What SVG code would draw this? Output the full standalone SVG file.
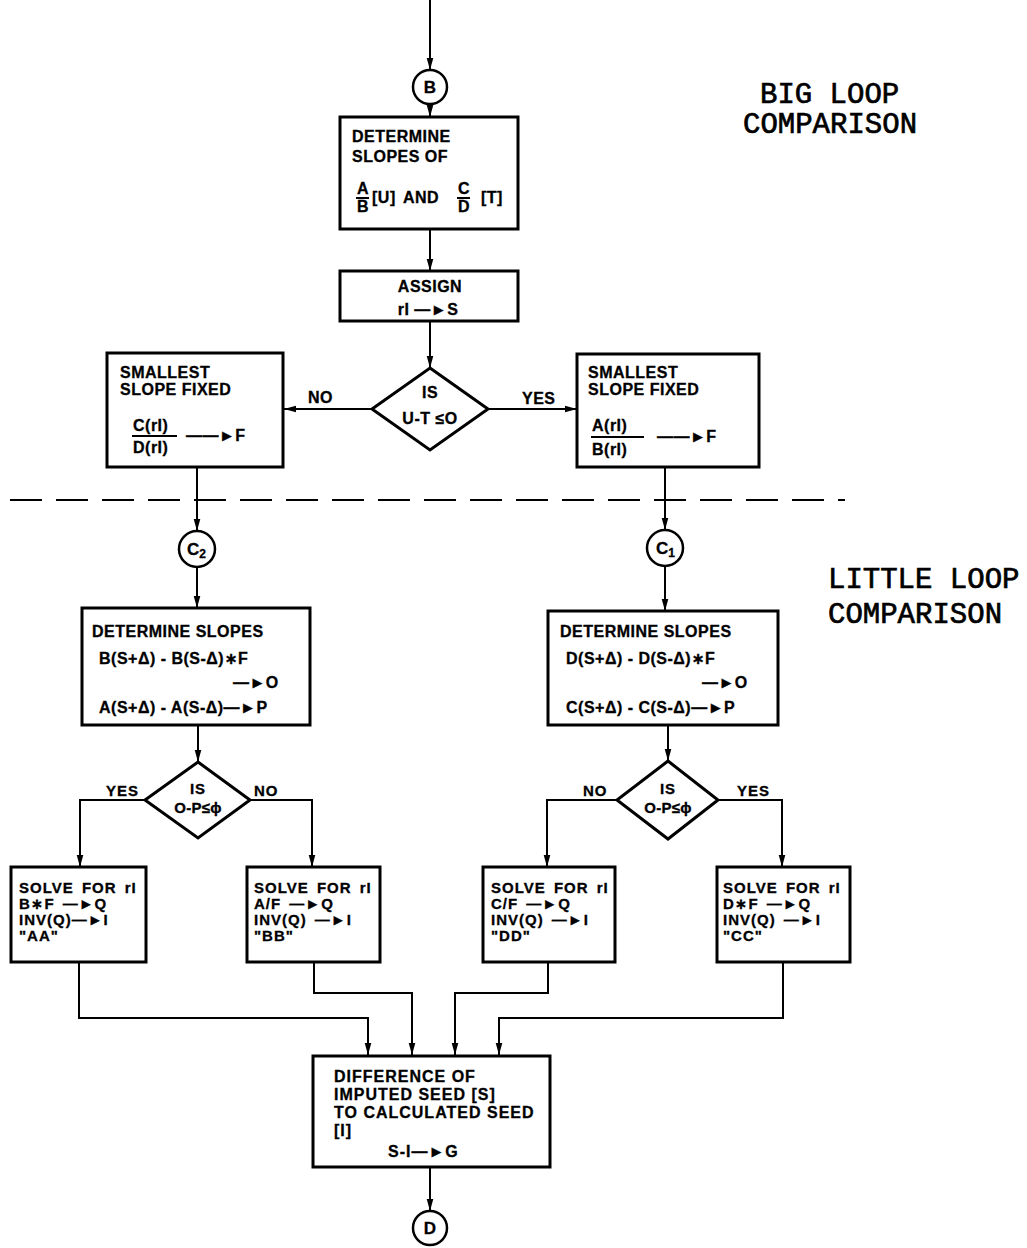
<svg xmlns="http://www.w3.org/2000/svg" width="1027" height="1248" viewBox="0 0 1027 1248">
<defs>
<marker id="ah" markerUnits="userSpaceOnUse" markerWidth="13" markerHeight="8" refX="12" refY="4" orient="auto">
<path d="M0,0.7 L12,4 L0,7.3 z" fill="#000"/>
</marker>
<style>
.box{fill:#fff;stroke:#000;stroke-width:3}
.dia{fill:#fff;stroke:#000;stroke-width:3}
.cir{fill:#fff;stroke:#000;stroke-width:2.5}
.ln{fill:none;stroke:#000;stroke-width:2}
.bar{stroke:#000;stroke-width:2}
.t{font-family:"Liberation Sans","DejaVu Sans",sans-serif;font-weight:bold;font-size:16px;letter-spacing:0.5px;fill:#000;stroke:#000;stroke-width:0.3px}
.s{font-size:15px;letter-spacing:1px;word-spacing:3px}
.m{text-anchor:middle}
.side{font-family:"Liberation Mono","Courier New",monospace;font-size:29px;fill:#000;stroke:#000;stroke-width:0.7px}
</style>
</defs>
<rect width="1027" height="1248" fill="#fff"/>

<g id="connectors">
<path class="ln" d="M430,0 V70" marker-end="url(#ah)"/>
<path class="ln" d="M430,104 V117" marker-end="url(#ah)"/>
<path class="ln" d="M430,229 V271" marker-end="url(#ah)"/>
<path class="ln" d="M430,321 V368" marker-end="url(#ah)"/>
<path class="ln" d="M372,409 H284" marker-end="url(#ah)"/>
<path class="ln" d="M488,409 H577" marker-end="url(#ah)"/>
<path class="ln" d="M197,467 V531" marker-end="url(#ah)"/>
<path class="ln" d="M197,567 V608" marker-end="url(#ah)"/>
<path class="ln" d="M665,467 V530" marker-end="url(#ah)"/>
<path class="ln" d="M665,566 V611" marker-end="url(#ah)"/>
<path class="ln" d="M198,725 V762" marker-end="url(#ah)"/>
<path class="ln" d="M145,800 H80 V867" marker-end="url(#ah)"/>
<path class="ln" d="M250,800 H312 V867" marker-end="url(#ah)"/>
<path class="ln" d="M668,725 V761" marker-end="url(#ah)"/>
<path class="ln" d="M617,800 H547 V867" marker-end="url(#ah)"/>
<path class="ln" d="M718,800 H782 V867" marker-end="url(#ah)"/>
<path class="ln" d="M79,962 V1018 H368 V1055" marker-end="url(#ah)"/>
<path class="ln" d="M314,962 V993 H412 V1055" marker-end="url(#ah)"/>
<path class="ln" d="M548,962 V993 H455 V1055" marker-end="url(#ah)"/>
<path class="ln" d="M783,962 V1018 H499 V1055" marker-end="url(#ah)"/>
<path class="ln" d="M430,1167 V1211" marker-end="url(#ah)"/>
<text class="t" x="308" y="403">NO</text>
<text class="t" x="522" y="404">YES</text>
<text class="t s" x="106" y="796">YES</text>
<text class="t s" x="254" y="796">NO</text>
<text class="t s" x="583" y="796">NO</text>
<text class="t s" x="737" y="796">YES</text>
</g>

<g id="divider">
<path d="M10,500 H845" stroke="#000" stroke-width="2" stroke-dasharray="32 14" fill="none"/>
</g>

<g id="labels">
<text class="side" x="760" y="103">BIG LOOP</text>
<text class="side" x="743" y="133">COMPARISON</text>
<text class="side" x="828" y="588">LITTLE LOOP</text>
<text class="side" x="828" y="623">COMPARISON</text>
</g>

<g id="node-B">
<circle class="cir" cx="430" cy="87" r="17"/>
<text class="t m" x="430" y="93" style="letter-spacing:0;font-size:17px">B</text>
</g>

<g id="node-determine-slopes-of">
<rect class="box" x="340" y="117" width="178" height="112"/>
<text class="t" x="352" y="142">DETERMINE</text>
<text class="t" x="352" y="162">SLOPES  OF</text>
<text class="t" x="357" y="194">A</text>
<line class="bar" x1="356" y1="198" x2="369" y2="198"/>
<text class="t" x="357" y="212">B</text>
<text class="t" x="372" y="203">[U]</text>
<text class="t" x="403" y="203">AND</text>
<text class="t" x="458" y="194">C</text>
<line class="bar" x1="457" y1="198" x2="470" y2="198"/>
<text class="t" x="458" y="212">D</text>
<text class="t" x="481" y="203">[T]</text>
</g>

<g id="node-assign">
<rect class="box" x="340" y="271" width="178" height="50"/>
<text class="t m" x="430" y="292">ASSIGN</text>
<text class="t m" x="428" y="315">rI —►S</text>
</g>

<g id="node-is-ut">
<polygon class="dia" points="430,368 488,409 430,450 372,409"/>
<text class="t m" x="430" y="398">IS</text>
<text class="t m" x="430" y="424">U-T ≤O</text>
</g>

<g id="node-smallest-left">
<rect class="box" x="107" y="353" width="176" height="114"/>
<text class="t" x="120" y="378">SMALLEST</text>
<text class="t" x="120" y="395">SLOPE  FIXED</text>
<text class="t" x="133" y="431">C(rI)</text>
<line class="bar" x1="132" y1="436" x2="177" y2="436"/>
<text class="t" x="133" y="453">D(rI)</text>
<text class="t" x="186" y="441">——►F</text>
</g>

<g id="node-smallest-right">
<rect class="box" x="577" y="354" width="182" height="113"/>
<text class="t" x="588" y="378">SMALLEST</text>
<text class="t" x="588" y="395">SLOPE  FIXED</text>
<text class="t" x="592" y="431">A(rI)</text>
<line class="bar" x1="591" y1="437" x2="644" y2="437"/>
<text class="t" x="592" y="455">B(rI)</text>
<text class="t" x="657" y="442">——►F</text>
</g>

<g id="node-C2">
<circle class="cir" cx="197" cy="549" r="18"/>
<text class="t" x="187" y="555" style="letter-spacing:0;font-size:17px">C<tspan font-size="12" dy="3">2</tspan></text>
</g>

<g id="node-C1">
<circle class="cir" cx="665" cy="548" r="18"/>
<text class="t" x="656" y="554" style="letter-spacing:0;font-size:17px">C<tspan font-size="12" dy="3">1</tspan></text>
</g>

<g id="node-determine-left">
<rect class="box" x="82" y="608" width="228" height="117"/>
<text class="t" x="92" y="637">DETERMINE  SLOPES</text>
<text class="t" x="99" y="664">B(S+Δ) - B(S-Δ)∗F</text>
<text class="t" x="233" y="688">—►O</text>
<text class="t" x="99" y="713">A(S+Δ) - A(S-Δ)—►P</text>
</g>

<g id="node-determine-right">
<rect class="box" x="548" y="611" width="230" height="114"/>
<text class="t" x="560" y="637">DETERMINE  SLOPES</text>
<text class="t" x="566" y="664">D(S+Δ) - D(S-Δ)∗F</text>
<text class="t" x="702" y="688">—►O</text>
<text class="t" x="566" y="713">C(S+Δ) - C(S-Δ)—►P</text>
</g>

<g id="node-is-op-left">
<polygon class="dia" points="198,762 250,800 198,838 145,800"/>
<text class="t s m" x="198" y="794" style="word-spacing:0">IS</text>
<text class="t s m" x="198" y="813" style="letter-spacing:0.3px">O-P≤ϕ</text>
</g>

<g id="node-is-op-right">
<polygon class="dia" points="668,761 718,800 668,839 617,800"/>
<text class="t s m" x="668" y="794" style="word-spacing:0">IS</text>
<text class="t s m" x="668" y="813" style="letter-spacing:0.3px">O-P≤ϕ</text>
</g>

<g id="node-solve-AA">
<rect class="box" x="11" y="867" width="135" height="95"/>
<text class="t s" x="19" y="893">SOLVE FOR rI</text>
<text class="t s" x="19" y="909">B∗F —►Q</text>
<text class="t s" x="19" y="925">INV(Q)—►I</text>
<text class="t s" x="19" y="941">"AA"</text>
</g>

<g id="node-solve-BB">
<rect class="box" x="247" y="867" width="133" height="95"/>
<text class="t s" x="254" y="893">SOLVE FOR rI</text>
<text class="t s" x="254" y="909">A/F —►Q</text>
<text class="t s" x="254" y="925">INV(Q) —►I</text>
<text class="t s" x="254" y="941">"BB"</text>
</g>

<g id="node-solve-DD">
<rect class="box" x="483" y="867" width="132" height="95"/>
<text class="t s" x="491" y="893">SOLVE FOR rI</text>
<text class="t s" x="491" y="909">C/F —►Q</text>
<text class="t s" x="491" y="925">INV(Q) —►I</text>
<text class="t s" x="491" y="941">"DD"</text>
</g>

<g id="node-solve-CC">
<rect class="box" x="717" y="867" width="133" height="95"/>
<text class="t s" x="723" y="893">SOLVE FOR rI</text>
<text class="t s" x="723" y="909">D∗F —►Q</text>
<text class="t s" x="723" y="925">INV(Q) —►I</text>
<text class="t s" x="723" y="941">"CC"</text>
</g>

<g id="node-difference">
<rect class="box" x="313" y="1056" width="237" height="111"/>
<text class="t" x="334" y="1082" style="letter-spacing:1px">DIFFERENCE OF</text>
<text class="t" x="334" y="1100" style="letter-spacing:1px">IMPUTED SEED [S]</text>
<text class="t" x="334" y="1118" style="letter-spacing:1px">TO CALCULATED SEED</text>
<text class="t" x="334" y="1136" style="letter-spacing:1px">[I]</text>
<text class="t" x="388" y="1157" style="letter-spacing:1px">S-I—►G</text>
</g>

<g id="node-D">
<circle class="cir" cx="430" cy="1228" r="17"/>
<text class="t m" x="430" y="1234" style="letter-spacing:0;font-size:17px">D</text>
</g>
</svg>
